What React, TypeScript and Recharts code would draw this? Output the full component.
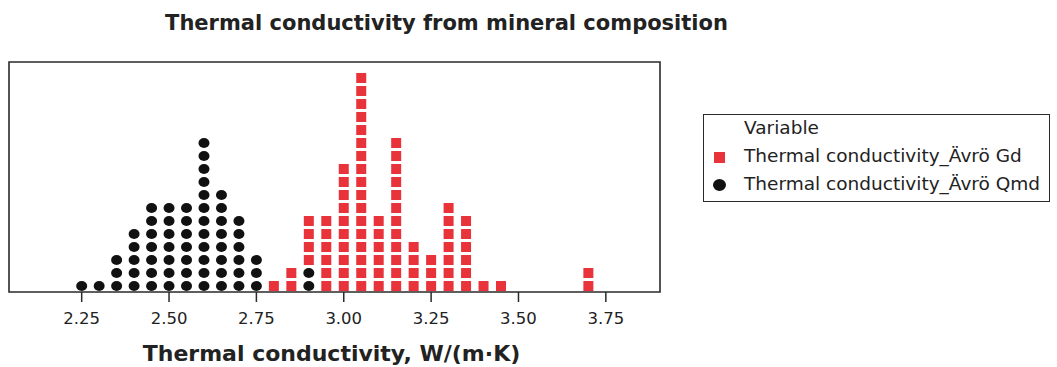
import React from 'react';
import { ScatterChart, Scatter, XAxis, YAxis, ReferenceArea } from 'recharts';

const W = 1057;
const H = 367;

const title = 'Thermal conductivity from mineral composition';
const xTitle = 'Thermal conductivity, W/(m·K)';
const legendTitle = 'Variable';

const seriesGdName = 'Thermal conductivity_Ävrö Gd';
const seriesQmdName = 'Thermal conductivity_Ävrö Qmd';

const xTicks = [2.25, 2.5, 2.75, 3.0, 3.25, 3.5, 3.75];
const xDomain = [2.042, 3.905];
const yDomain = [-0.46, 17.23];

// Qmd bins (value) and number of dots in each bin
const qmdValues = [2.25, 2.3, 2.35, 2.4, 2.45, 2.5, 2.55, 2.6, 2.65, 2.7, 2.75, 2.9];
const qmdCounts = [1, 1, 3, 5, 7, 7, 7, 12, 8, 6, 3, 2];

// Gd bins (value) and number of dots in each bin
const gdValues = [2.8, 2.85, 2.9, 2.95, 3.0, 3.05, 3.1, 3.15, 3.2, 3.25, 3.3, 3.35, 3.4, 3.45, 3.7];
const gdCounts = [1, 2, 4, 6, 10, 17, 6, 12, 4, 3, 7, 6, 1, 1, 2];

const RED = '#E8333B';
const BLACK = '#111111';
const AXIS = '#2a2a2a';
const TEXT = '#222222';
const FONT = 'DejaVu Sans';

// stack dots: Qmd at the bottom, Gd stacked on top of Qmd in shared bins
const qmdPoints: { x: number; y: number }[] = [];
qmdValues.forEach((v, i) => {
  for (let k = 0; k < qmdCounts[i]; k++) qmdPoints.push({ x: v, y: k });
});
const gdPoints: { x: number; y: number }[] = [];
gdValues.forEach((v, i) => {
  const j = qmdValues.findIndex((q) => Math.abs(q - v) < 1e-9);
  const base = j >= 0 ? qmdCounts[j] : 0;
  for (let k = 0; k < gdCounts[i]; k++) gdPoints.push({ x: v, y: base + k });
});

const Circle = (props: any) => {
  const { cx, cy } = props;
  return <ellipse cx={cx} cy={cy} rx={5.5} ry={5} fill={BLACK} />;
};
const Square = (props: any) => {
  const { cx, cy } = props;
  return <rect x={cx - 5} y={cy - 5} width={10} height={10} fill={RED} />;
};

const legendText: React.CSSProperties = {
  position: 'absolute',
  left: 40,
  lineHeight: '22px',
  whiteSpace: 'nowrap',
};

const LegendBox = () => (
  <div
    style={{
      position: 'absolute',
      left: 703,
      top: 114,
      width: 347,
      height: 88,
      border: `1.5px solid ${AXIS}`,
      boxSizing: 'border-box',
      fontFamily: FONT,
      fontSize: 18.5,
      color: TEXT,
      background: '#fff',
    }}
  >
    <div style={{ ...legendText, top: 2 }}>{legendTitle}</div>
    <div style={{ position: 'absolute', left: 10, top: 37, width: 11, height: 11, background: RED }} />
    <div style={{ ...legendText, top: 30 }}>{seriesGdName}</div>
    <div
      style={{
        position: 'absolute',
        left: 9,
        top: 64,
        width: 13,
        height: 12,
        borderRadius: '50%',
        background: BLACK,
      }}
    />
    <div style={{ ...legendText, top: 58 }}>{seriesQmdName}</div>
  </div>
);

export default function App() {
  return (
    <div style={{ position: 'absolute', left: 0, top: 0, width: W, height: H, background: '#fff' }}>
      <div style={{ position: 'absolute', left: 0, top: 0 }}>
        <ScatterChart width={W} height={H} margin={{ top: 62, right: 397, bottom: 45, left: 9 }}>
          <XAxis
            type="number"
            dataKey="x"
            domain={xDomain}
            ticks={xTicks}
            tickFormatter={(v: number) => v.toFixed(2)}
            allowDataOverflow
            height={30}
            tickSize={10}
            tickMargin={10}
            axisLine={false}
            stroke={AXIS}
            strokeWidth={1.5}
            tick={{ fill: TEXT, fontSize: 16.5, fontFamily: FONT }}
          />
          <YAxis
            type="number"
            dataKey="y"
            domain={yDomain}
            allowDataOverflow
            hide
            width={0}
          />
          <ReferenceArea
            x1={xDomain[0]}
            x2={xDomain[1]}
            y1={yDomain[0]}
            y2={yDomain[1]}
            fill="none"
            fillOpacity={0}
            stroke={AXIS}
            strokeWidth={1.6}
            ifOverflow="visible"
          />
          <Scatter name={seriesGdName} data={gdPoints} shape={Square} isAnimationActive={false} />
          <Scatter name={seriesQmdName} data={qmdPoints} shape={Circle} isAnimationActive={false} />
        </ScatterChart>
      </div>
      <div
        style={{
          position: 'absolute',
          left: 0,
          width: 893,
          top: 11,
          textAlign: 'center',
          fontFamily: FONT,
          fontWeight: 'bold',
          fontSize: 21,
          color: TEXT,
          lineHeight: '24px',
          whiteSpace: 'nowrap',
        }}
      >
        {title}
      </div>
      <div
        style={{
          position: 'absolute',
          left: 0,
          width: 663,
          top: 341,
          textAlign: 'center',
          fontFamily: FONT,
          fontWeight: 'bold',
          fontSize: 22,
          color: TEXT,
          lineHeight: '26px',
          whiteSpace: 'nowrap',
        }}
      >
        {xTitle}
      </div>
      <LegendBox />
    </div>
  );
}
